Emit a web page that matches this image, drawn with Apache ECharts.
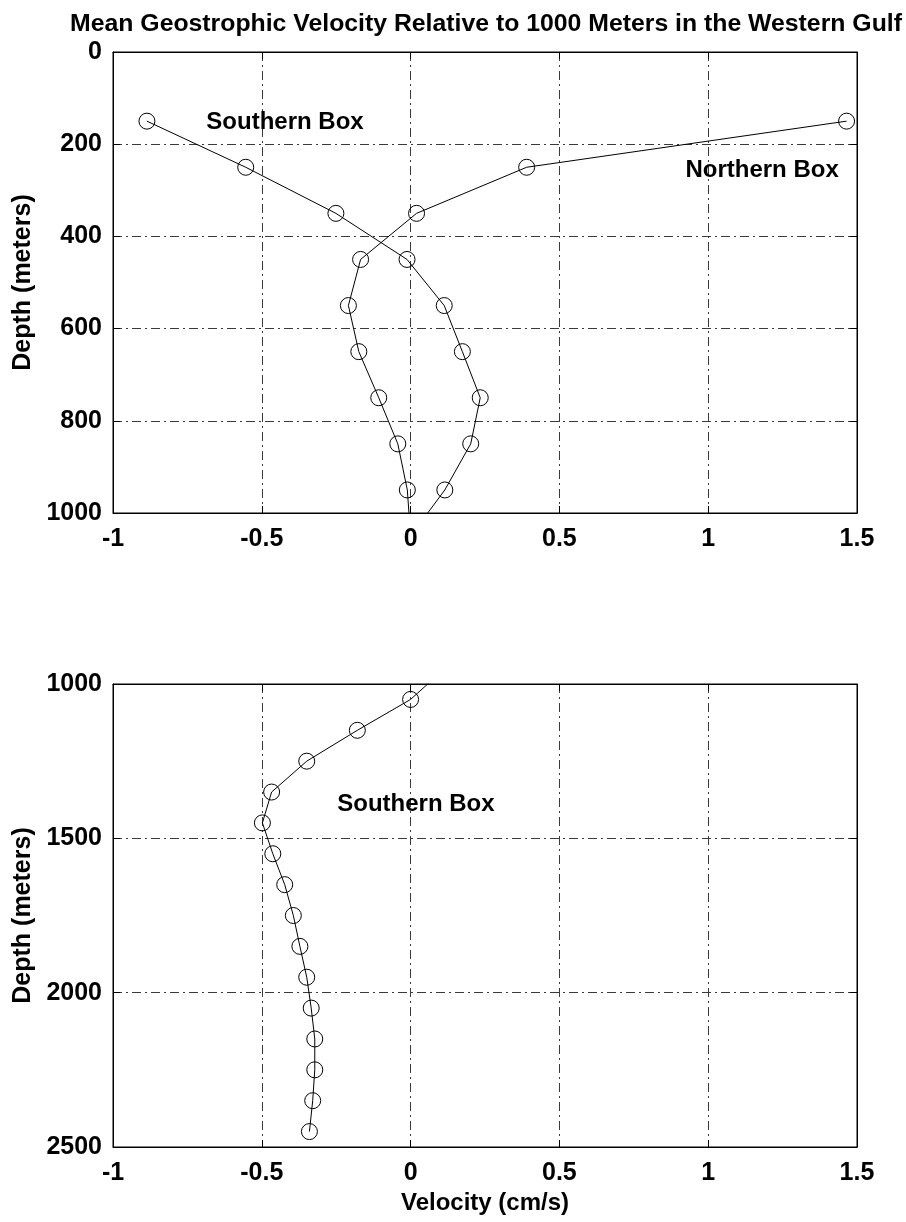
<!DOCTYPE html>
<html>
<head>
<meta charset="utf-8">
<script src="https://cdn.jsdelivr.net/npm/echarts@6/dist/echarts.min.js"></script>
<style>
html,body{margin:0;padding:0;background:#fff;}
#chart{width:906px;height:1222px;}
</style>
</head>
<body>
<div id="chart"></div>
<script>
// ---- data ----
const southDepth = [150,250,350,450,550,650,750,850,950,1050,1150,1250,1350,1450,1550,1650,1750,1850,1950,2050,2150,2250,2350,2450];
const southVel   = [-0.886,-0.554,-0.251,-0.012,0.113,0.174,0.234,0.202,0.115,0.000,-0.179,-0.349,-0.467,-0.498,-0.463,-0.423,-0.394,-0.372,-0.349,-0.334,-0.322,-0.322,-0.329,-0.340];
const northDepth = [150,250,350,450,550,650,750,850,950,1050];
const northVel   = [1.465,0.390,0.020,-0.168,-0.209,-0.174,-0.107,-0.043,-0.011,0.000];
const xTicks = [-1,-0.5,0,0.5,1,1.5];
const topDepthTicks = [0,200,400,600,800,1000];
const bottomDepthTicks = [1000,1500,2000,2500];
const titleText = 'Mean Geostrophic Velocity Relative to 1000 Meters in the Western Gulf';
const xName = 'Velocity (cm/s)';
const yName = 'Depth (meters)';
const noteNames = ['Southern Box','Northern Box','Southern Box'];

const FONT = '"Liberation Sans", Arial, Helvetica, sans-serif';
const pairs = (xs, ys) => xs.map((x, i) => [ys[i], x]);

const chart = echarts.init(document.getElementById('chart'), null, {renderer:'canvas'});

const grid = [
  {left:113, right:49, top:52, height:461, containLabel:false, outerBoundsMode:'none',
   show:true, borderColor:'#000', borderWidth:1, backgroundColor:'#fff'},
  {left:113, right:49, top:684, height:463, containLabel:false, outerBoundsMode:'none',
   show:true, borderColor:'#000', borderWidth:1, backgroundColor:'#fff'}
];
const gridLineStyle = {color:'#3a3a3a', width:1, type:[9,4,2,4]};
const labelStyle = {color:'#000', fontFamily:FONT, fontWeight:'bold', fontSize:25};

function xAxisFor(gi, withName){
  return [{
    gridIndex:gi, type:'value', position:'bottom',
    min:xTicks[0], max:xTicks[xTicks.length-1], interval:0.5,
    axisLine:{show:true, onZero:false, lineStyle:{color:'#000', width:1}},
    axisTick:{show:true, inside:true, length:7, lineStyle:{color:'#000'}},
    axisLabel:Object.assign({margin:14, formatter:v=>String(v)}, labelStyle),
    splitLine:{show:true, lineStyle:gridLineStyle},
    name: withName ? xName : '', nameLocation:'middle', nameGap:44,
    nameTextStyle:Object.assign({}, labelStyle, {fontSize:24})
  },{
    gridIndex:gi, type:'value', position:'top',
    min:xTicks[0], max:xTicks[xTicks.length-1], interval:0.5,
    axisLine:{show:true, onZero:false, lineStyle:{color:'#000', width:1}},
    axisTick:{show:true, inside:true, length:7, lineStyle:{color:'#000'}},
    axisLabel:{show:false}, splitLine:{show:false}
  }];
}
function yAxisFor(gi, ticks, interval){
  const mn = ticks[0], mx = ticks[ticks.length-1];
  return [{
    gridIndex:gi, type:'value', position:'left', inverse:true,
    min:mn, max:mx, interval:interval,
    axisLine:{show:true, onZero:false, lineStyle:{color:'#000', width:1}},
    axisTick:{show:true, inside:true, length:7, lineStyle:{color:'#000'}},
    axisLabel:Object.assign({margin:11, formatter:v=>String(v)}, labelStyle),
    splitLine:{show:true, lineStyle:gridLineStyle},
    name:yName, nameLocation:'middle', nameRotate:90, nameGap:60,
    nameTextStyle:Object.assign({}, labelStyle, {fontSize:25})
  },{
    gridIndex:gi, type:'value', position:'right', inverse:true,
    min:mn, max:mx, interval:interval,
    axisLine:{show:true, onZero:false, lineStyle:{color:'#000', width:1}},
    axisTick:{show:true, inside:true, length:7, lineStyle:{color:'#000'}},
    axisLabel:{show:false}, splitLine:{show:false}
  }];
}

const lineCommon = {
  type:'line', symbol:'circle', symbolSize:16, clip:true, animation:false,
  lineStyle:{color:'#000', width:1},
  itemStyle:{color:'rgba(0,0,0,0)', borderColor:'#000', borderWidth:1},
  emphasis:{disabled:true},
  z:3
};
const noteSeries = (xi, yi, pts) => ({
  type:'scatter', xAxisIndex:xi, yAxisIndex:yi, symbolSize:1, animation:false, silent:true,
  itemStyle:{color:'#000', opacity:0},
  emphasis:{disabled:true},
  label:{show:true, position:'inside', formatter:p=>p.value[2], color:'#000', opacity:1,
         textBorderWidth:0, fontFamily:FONT, fontWeight:'bold', fontSize:24},
  data:pts, z:4
});

const option = {
  backgroundColor:'#fff',
  animation:false,
  title:{
    text:titleText, left:481, top:7, textAlign:'center',
    textStyle:{color:'#000', fontFamily:FONT, fontWeight:'bold', fontSize:24.8}
  },
  grid:grid,
  xAxis:[].concat(xAxisFor(0,false), xAxisFor(1,true)),
  yAxis:[].concat(yAxisFor(0, topDepthTicks, 200), yAxisFor(1, bottomDepthTicks, 500)),
  series:[
    Object.assign({name:'Southern Box', xAxisIndex:0, yAxisIndex:0, data:pairs(southDepth, southVel)}, lineCommon),
    Object.assign({name:'Northern Box', xAxisIndex:0, yAxisIndex:0, data:pairs(northDepth, northVel)}, lineCommon),
    Object.assign({name:'Southern Box deep', xAxisIndex:2, yAxisIndex:2, data:pairs(southDepth, southVel)}, lineCommon),
    noteSeries(0, 0, [[-0.422, 153, noteNames[0]], [1.181, 256, noteNames[1]]]),
    noteSeries(2, 2, [[0.018, 1391, noteNames[2]]])
  ]
};
chart.setOption(option);
</script>
</body>
</html>
